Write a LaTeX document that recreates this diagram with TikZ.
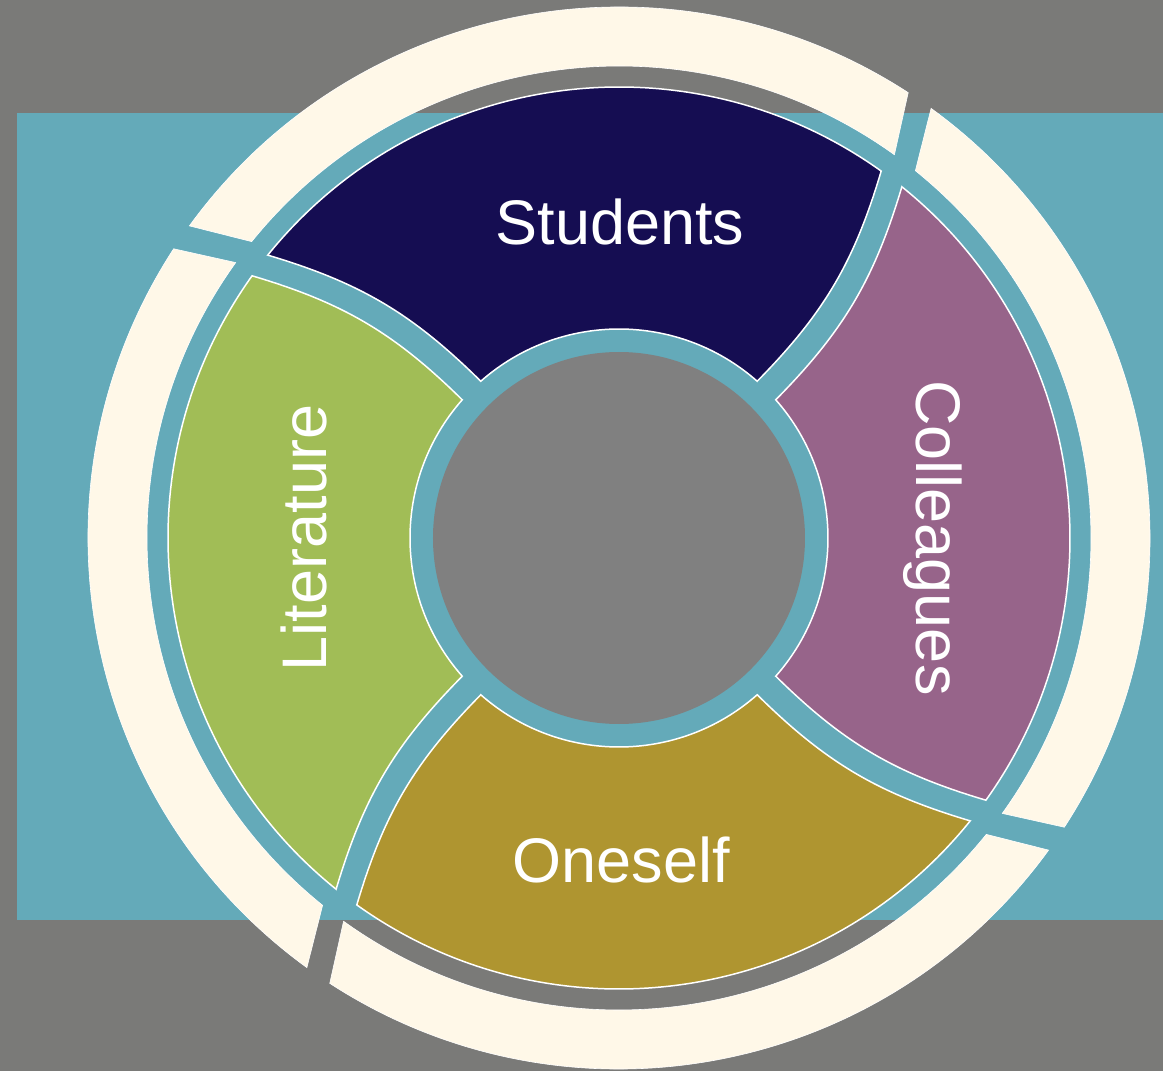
\documentclass[tikz,border=0pt]{standalone}
\usepackage{fontspec}
\setmainfont{Liberation Sans}
\usepackage{xcolor}

\definecolor{bggray}{HTML}{7A7A78}
\definecolor{bandteal}{HTML}{64AAB9}
\definecolor{creamring}{HTML}{FFF8E8}
\definecolor{hubgray}{HTML}{808080}
\definecolor{studblue}{HTML}{150D52}
\definecolor{collpurple}{HTML}{97648A}
\definecolor{onesolive}{HTML}{AF9530}
\definecolor{litgreen}{HTML}{A1BD56}

\begin{document}
\begin{tikzpicture}[x=1pt,y=1pt,
    seg/.style ={
        draw=white,
        line width=1.5pt
    },
    piece/.style ={
        fill=creamring,
        draw=white,
        line width=0.6pt
    },
    lbl/.style ={
        white,
        inner sep=0pt,
        anchor=base,
        font=\fontsize{63}{70}\selectfont
    }
    ]
    \useasboundingbox (-619,-533) rectangle (544,538);
    \fill[bggray] (-619,-533) rectangle (544,538);
    \fill[bandteal] (-602,-382) rectangle (544,425);

    % cream outer ring, four pieces
    \foreach \c in {90,0,-90,180}
        \draw[piece] (\c-33:531) arc[start angle=\c-33, end angle=\c+54, radius=531]
            -- (\c+51.1:472) arc[start angle=\c+51.1, end angle=\c-35.7, radius=472] -- cycle;

    % the four coloured segments
    \foreach \c/\col in {90/studblue, 0/collpurple, -90/onesolive, 180/litgreen}
        \draw[seg, fill=\col] (\c-41.4:209) to[bend right=14] (\c-35.55:451)
            arc[start angle=\c-35.55, end angle=\c+51.15, radius=451]
            to[bend left=14] (\c+41.4:209)
            arc[start angle=\c+41.4, end angle=\c-41.4, radius=209] -- cycle;

    \fill[hubgray] (0,0) circle[radius=186];

    \foreach \name/\pos/\rot/\txt in {{stud/(1,293)/0/Students}, {coll/(297,0)/-90/Colleagues},
                                     {ones/(2,-344)/0/Oneself}, {lit/(-292,0)/90/Literature}}
        \node[lbl, rotate=\rot] (\name) at \pos {\txt};
\end{tikzpicture}
\end{document}
